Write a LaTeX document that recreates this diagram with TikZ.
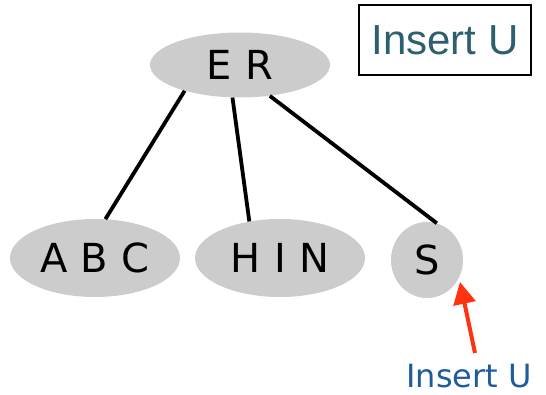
\documentclass[tikz,border=0pt]{standalone}
\usepackage{fontspec}
\setmainfont{DejaVu Sans}
\newfontfamily\boxfont{Liberation Sans}
\usetikzlibrary{shapes.geometric,arrows.meta}
\definecolor{nodegrey}{HTML}{CCCCCC}
\definecolor{tealtext}{HTML}{2D5F6E}
\definecolor{bluetext}{HTML}{1F5C9C}
\definecolor{arrowred}{HTML}{FF3311}
\begin{document}
\begin{tikzpicture}[x=1pt,y=-1pt,
  treenode/.style={ellipse,fill=nodegrey,inner sep=0pt,font=\fontsize{40}{44}\selectfont},
  edge/.style={line width=3.8pt,black}]
\useasboundingbox (0,0) rectangle (546,395);
\node[treenode,minimum width=180pt,minimum height=65pt] (ER) at (240,65) {E\,\,R};
\node[treenode,minimum width=170pt,minimum height=78pt] (ABC) at (95,258) {A\,\,B\,\,C};
\node[treenode,minimum width=170pt,minimum height=78pt] (HIN) at (280,258) {H\,\,I\,\,N};
\node[treenode,minimum width=72pt,minimum height=76pt] (S) at (427,260) {S};
\draw[edge] (ER.205) -- (ABC.75);
\draw[edge] (ER.257) -- (HIN.130);
\draw[edge] (ER.314) -- (S.75);
\node[draw=black,line width=1.5pt,minimum width=172pt,minimum height=70pt,inner sep=0pt,
  text=tealtext,font=\boxfont\fontsize{42}{44}\selectfont] (box) at (445,40) {Insert U};
\node[text=bluetext,font=\fontsize{32}{36}\selectfont,inner sep=0pt] (lbl) at (469,376) {Insert U};
\coordinate (ustart) at (475,353);
\coordinate (utip) at (460,282);
\draw[arrowred,line width=4pt,-{Triangle[length=22pt,width=22pt]}] (ustart) -- (utip);
\end{tikzpicture}
\end{document}
